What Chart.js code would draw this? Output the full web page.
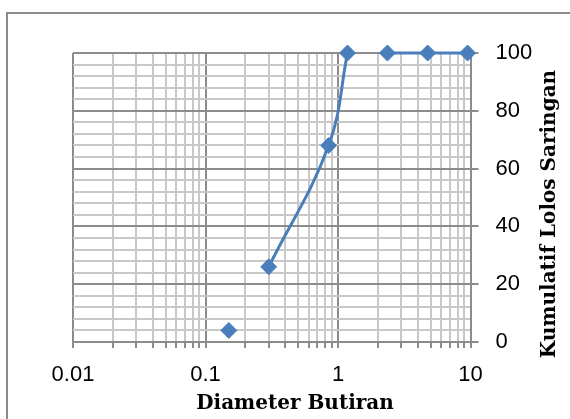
<!DOCTYPE html>
<html>
<head>
<meta charset="utf-8">
<script src="https://cdn.jsdelivr.net/npm/chart.js@4.4.1/dist/chart.umd.min.js"></script>
<style>
    html, body { margin: 0; padding: 0; background: #fff; overflow: hidden; }
    #wrap { position: relative; width: 570px; height: 419px; overflow: hidden; }
    #frame { position: absolute; left: 6px; top: 12px; width: 700px; height: 700px; border: 2px solid #8c8c8c; }
    canvas { position: absolute; left: 0; top: 0; }
</style>
</head>
<body>
<div id="wrap">
    <div id="frame"></div>
    <canvas id="gradationChart" width="570" height="419"></canvas>
</div>
<script>
const diameters = [0.15, 0.3, 0.85, 1.18, 2.36, 4.75, 9.5];
const passing = [4, 26, 68, 100, 100, 100, 100];
// line is broken after these rows (blank cells in the sheet)
const breaksAfter = [0, 3];

const xDecades = [0.01, 0.1, 1, 10];
const xTickLabels = ["0.01", "0.1", "1", "10"];
const yMajorTicks = [0, 20, 40, 60, 80, 100];
const yMinorStep = 4;

const xTitle = "Diameter Butiran";
const yTitle = "Kumulatif Lolos Saringan";

const BLUE = "#4a7ebb";
const MAJOR_GRID = "#8c8c8c";
const MINOR_GRID = "#c8c8c8";

// points, with a null after each break so the line is split
const points = [];
diameters.forEach((d, i) => {
    points.push({ x: d, y: passing[i] });
    if (breaksAfter.includes(i)) points.push({ x: d, y: null });
});

// log grid: 1..9 in every decade
const xGrid = [];
for (let i = 0; i < xDecades.length - 1; i++) {
    for (let k = 1; k <= 9; k++) {
        xGrid.push({ value: +(k * xDecades[i]).toPrecision(6), major: k === 1 });
    }
}
xGrid.push({ value: xDecades[xDecades.length - 1], major: true });

const yGrid = [];
for (let v = 0; v <= 100; v += yMinorStep) {
    yGrid.push({ value: v, major: yMajorTicks.includes(v) });
}

const axisTitles = {
    id: "axisTitles",
    afterDraw(chart) {
        const ctx = chart.ctx;
        ctx.save();
        ctx.fillStyle = "#000";
        ctx.font = "bold 20px 'DejaVu Serif'";
        ctx.textAlign = "center";
        ctx.textBaseline = "alphabetic";
        ctx.fillText(xTitle, 295, 409);
        ctx.translate(555, 214);
        ctx.rotate(-Math.PI / 2);
        ctx.fillText(yTitle, 0, 0);
        ctx.restore();
    },
};

const ctx = document.getElementById("gradationChart").getContext("2d");

new Chart(ctx, {
    type: "line",
    data: {
        datasets: [
            {
                data: points,
                borderColor: BLUE,
                backgroundColor: BLUE,
                borderWidth: 3,
                tension: 0.4,
                spanGaps: false,
                pointStyle: "rectRot",
                pointRadius: 8,
                pointBorderWidth: 1,
                pointBackgroundColor: BLUE,
                pointBorderColor: BLUE,
                clip: false,
            },
        ],
    },
    options: {
        responsive: false,
        animation: false,
        devicePixelRatio: 1,
        layout: {
            padding: { left: 73, top: 53, right: 0, bottom: 0 },
        },
        plugins: {
            legend: { display: false },
            tooltip: { enabled: false },
        },
        scales: {
            x: {
                type: "logarithmic",
                min: 0.01,
                max: 10,
                afterBuildTicks: (scale) => {
                    scale.ticks = xGrid.map((t) => ({ ...t }));
                },
                afterFit: (scale) => {
                    scale.height = 77;
                },
                ticks: {
                    autoSkip: false,
                    maxRotation: 0,
                    padding: 14,
                    color: "#000",
                    font: { family: "'Liberation Sans'", size: 22 },
                    callback: (value, index, ticks) => {
                        if (!ticks[index].major) return "";
                        return xTickLabels[xDecades.findIndex((d) => Math.abs(d - value) < 1e-9)];
                    },
                },
                grid: {
                    color: (c) => (c.tick && c.tick.major ? MAJOR_GRID : MINOR_GRID),
                    lineWidth: 2,
                    tickColor: MAJOR_GRID,
                    tickLength: 6,
                },
                border: { color: MAJOR_GRID, width: 2 },
            },
            y: {
                position: "right",
                min: 0,
                max: 100,
                afterBuildTicks: (scale) => {
                    scale.ticks = yGrid.map((t) => ({ ...t }));
                },
                afterFit: (scale) => {
                    scale.width = 99.5;
                },
                ticks: {
                    autoSkip: false,
                    padding: 17,
                    color: "#000",
                    font: { family: "'Liberation Sans'", size: 22 },
                    callback: (value, index, ticks) => (ticks[index].major ? String(value) : ""),
                },
                grid: {
                    color: (c) => (c.tick && c.tick.major ? MAJOR_GRID : MINOR_GRID),
                    lineWidth: 2,
                    tickColor: (c) => (c.tick && c.tick.major ? MAJOR_GRID : "transparent"),
                    tickLength: 8,
                },
                border: { color: MAJOR_GRID, width: 2 },
            },
        },
    },
    plugins: [axisTitles],
});
</script>
</body>
</html>
